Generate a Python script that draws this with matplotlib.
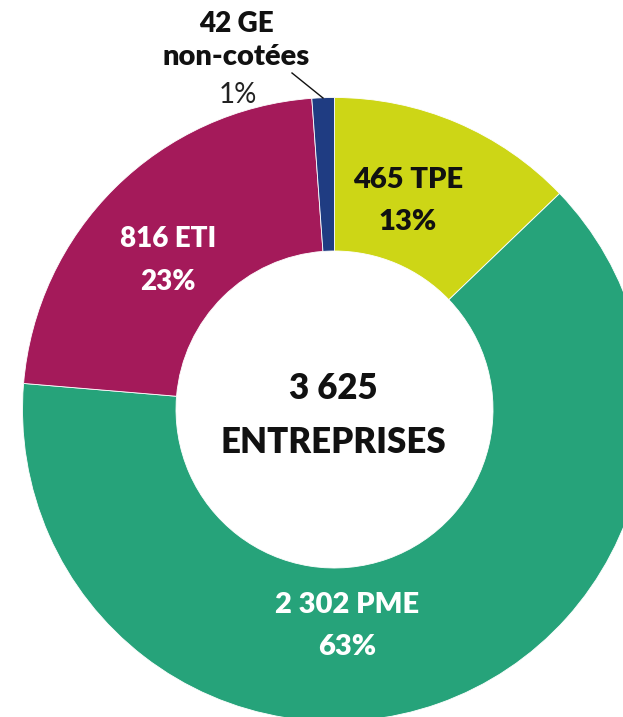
#!/usr/bin/env python3

# Donut chart: 3 625 entreprises by size category

import matplotlib.pyplot as plt

# categories, clockwise from the top
names = ["TPE", "PME", "ETI", "GE"]
counts = [465, 2302, 816, 42]
percents = [13, 63, 23, 1]
colors = ["#cdd616", "#26a37a", "#a41a5a", "#1f3c82"]

def fmt(n):
    return f"{n:,}".replace(",", " ")

W, H = 623, 717
fig = plt.figure(figsize=(W / 100, H / 100), dpi=100)
ax = fig.add_axes([0, 0, 1, 1])

cx, cy = 334.5, H - 409.5
r_out = 312
r_in = 158.5

ax.pie(counts, colors=colors, startangle=90, counterclock=False,
       center=(cx, cy), radius=r_out, frame=True,
       wedgeprops=dict(width=r_out - r_in, edgecolor="white", linewidth=0.6))
ax.set_xlim(0, W)
ax.set_ylim(0, H)
ax.set_aspect("equal")
ax.axis("off")

font = "Lato"

def txt(x, y, s, size, color="#111111", weight="heavy"):
    # y given in image pixels (from top), baseline anchored
    ax.text(x, H - y, s, ha="center", va="baseline", fontsize=size,
            color=color, fontweight=weight, family=font)

# TPE
txt(408, 188, f"{fmt(counts[0])} {names[0]}", 21)
txt(408, 230, f"{percents[0]}%", 21)
# PME
txt(347, 613, f"{fmt(counts[1])} {names[1]}", 21, color="white")
txt(347, 655, f"{percents[1]}%", 21, color="white")
# ETI
txt(168, 247, f"{fmt(counts[2])} {names[2]}", 20, color="white")
txt(168, 290, f"{percents[2]}%", 20, color="white")
# GE, outside with leader line
txt(236, 32, f"{fmt(counts[3])} {names[3]}", 20)
txt(236, 65, "non-cotées", 21)
txt(238, 103, f"{percents[3]}%", 20, color="#222222", weight="normal")
ax.plot([292, 323], [H - 73, H - 98], color="#111111", linewidth=1)

# centre
txt(333, 399, fmt(sum(counts)), 25)
txt(333, 453, "ENTREPRISES", 25)

fig.savefig("out.png", dpi=100)
